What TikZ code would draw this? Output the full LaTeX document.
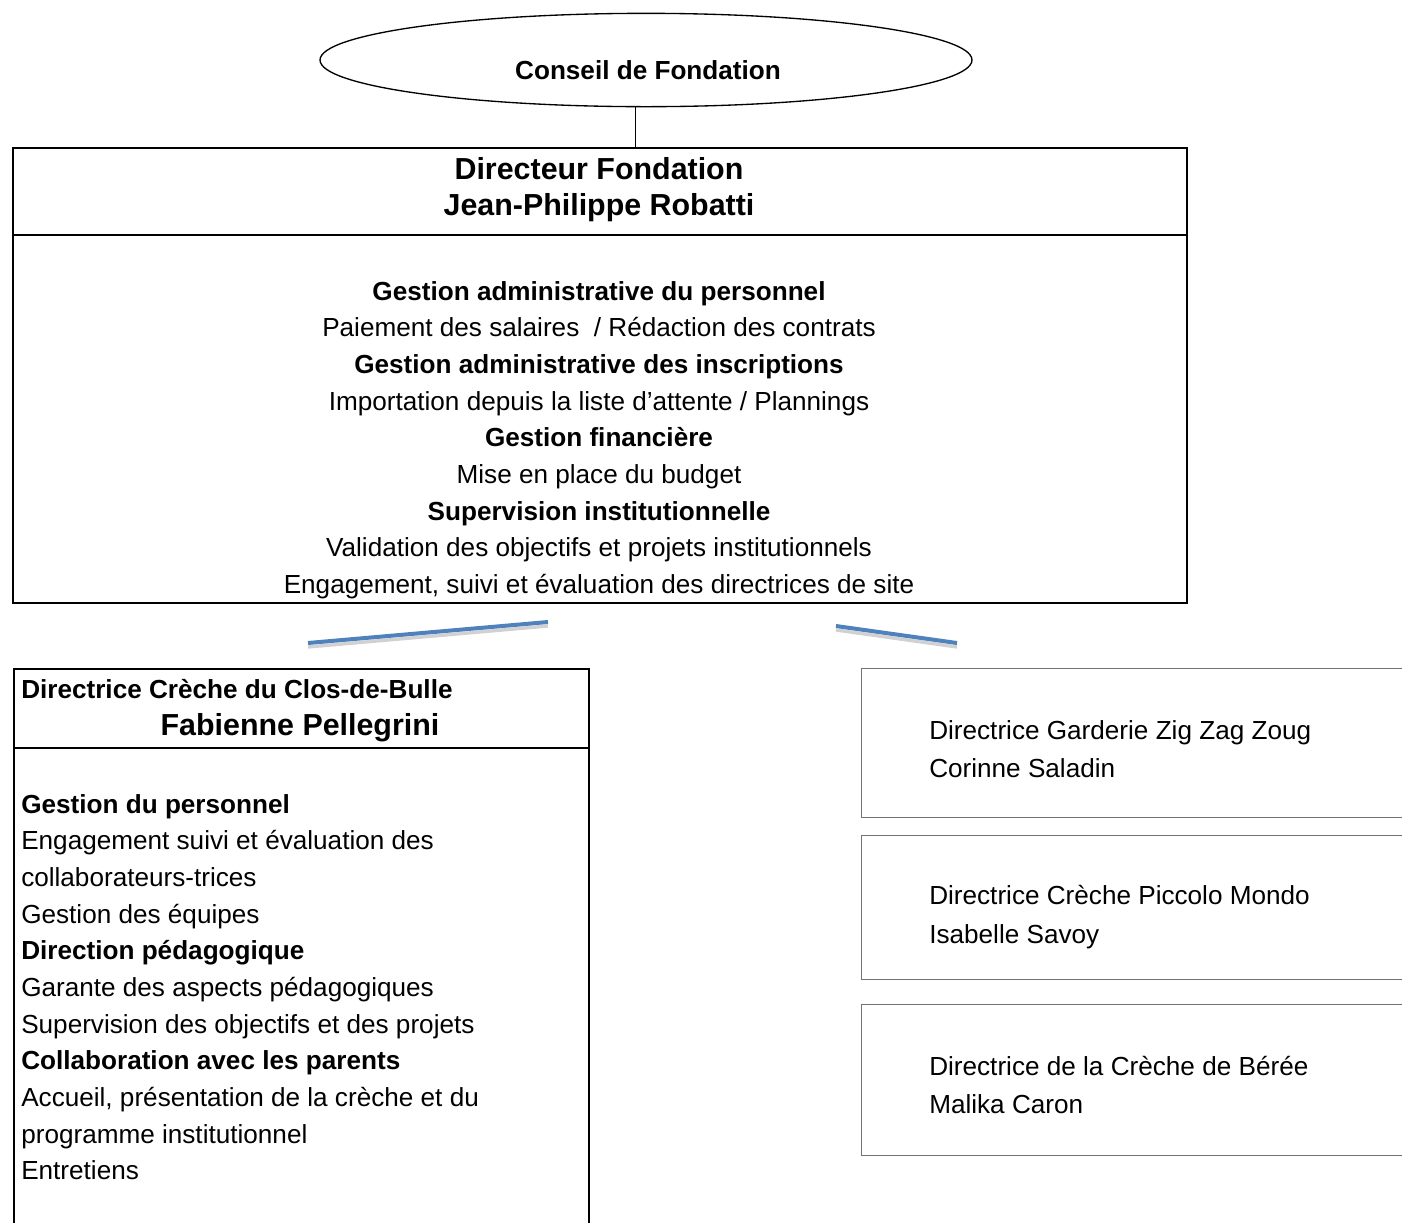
\documentclass[tikz,border=0pt]{standalone}
\usepackage{fontspec}
\setmainfont{Liberation Sans}
\usetikzlibrary{shapes.geometric}
\definecolor{officeblue}{RGB}{79,129,189}
\begin{document}
\begin{tikzpicture}[x=0.75pt, y=-0.75pt,
  box/.style={draw, line width=1.5pt, inner sep=0pt, anchor=north west},
  sitebox/.style={draw=black!55, line width=0.9pt, inner sep=0pt, anchor=north west,
    minimum width=419pt},
  txt/.style={inner sep=0pt, font=\fontsize{19.6}{27.5}\selectfont},
  big/.style={inner sep=0pt, font=\fontsize{22.8}{27}\selectfont\bfseries},
  link/.style={draw=officeblue, line width=3pt},
  linkshadow/.style={draw=black!18, line width=2.5pt}]
\useasboundingbox (0,0) rectangle (1402,1222);

% conseil et direction
\node[draw, ellipse, line width=1pt, minimum width=489pt, minimum height=70pt] (conseil) at (646,60) {};
\node[txt, font=\fontsize{19.6}{21}\selectfont\bfseries] (conseiltxt) at (648,70) {Conseil de Fondation};
\node[box, minimum width=880.5pt, minimum height=341.25pt] (dir) at (12,147) {};
\draw ([xshift=-8pt]conseil.south) -- ([xshift=-8pt]conseil.south |- dir.north);
\draw[line width=1pt] (dir.west |- 0,235) -- (dir.east |- 0,235);
\node[big, align=center] (dirnom) at (599,190) {Directeur Fondation\\Jean-Philippe Robatti};
\node[txt, align=center] (dirtaches) at (599,440) {%
  \textbf{Gestion administrative du personnel}\\
  Paiement des salaires~ / Rédaction des contrats\\
  \textbf{Gestion administrative des inscriptions}\\
  Importation depuis la liste d’attente / Plannings\\
  \textbf{Gestion financière}\\
  Mise en place du budget\\
  \textbf{Supervision institutionnelle}\\
  Validation des objectifs et projets institutionnels\\
  Engagement, suivi et évaluation des directrices de site};

% traits bleus
\coordinate (g1) at (308,643); \coordinate (g2) at (548,622);
\coordinate (d1) at (836,626); \coordinate (d2) at (957,643);
\draw[linkshadow] ([yshift=-3pt]g1) -- ([yshift=-3pt]g2);
\draw[linkshadow] ([yshift=-3pt]d1) -- ([yshift=-3pt]d2);
\draw[link] (g1) -- (g2);
\draw[link] (d1) -- (d2);

% Clos-de-Bulle
\node[box, minimum width=431.25pt, minimum height=440pt] (clos) at (13,668) {};
\draw[line width=1pt] (clos.west |- 0,748) -- (clos.east |- 0,748);
\node[txt, anchor=west, font=\fontsize{19.6}{21}\selectfont\bfseries] (clostitre) at (21,689) {Directrice Crèche du Clos-de-Bulle};
\node[big] (closnom) at (300,728) {Fabienne Pellegrini};
\node[txt, anchor=north west, align=left] (clostaches) at (21,794) {%
  \textbf{Gestion du personnel}\\
  Engagement suivi et évaluation des\\
  collaborateurs-trices\\
  Gestion des équipes\\
  \textbf{Direction pédagogique}\\
  Garante des aspects pédagogiques\\
  Supervision des objectifs et des projets\\
  \textbf{Collaboration avec les parents}\\
  Accueil, présentation de la crèche et du\\
  programme institutionnel\\
  Entretiens};

% autres sites
\foreach \y/\h/\m/\n/\t/\p in {668/149/749/zig/Directrice Garderie Zig Zag Zoug/Corinne Saladin,
    835/144/917/piccolo/Directrice Crèche Piccolo Mondo/Isabelle Savoy,
    1004/151/1085/beree/Directrice de la Crèche de Bérée/Malika Caron}{
  \node[sitebox, minimum height=\h*0.75pt] (\n) at (861,\y) {};
  \node[txt, anchor=west, align=left, font=\fontsize{19.6}{29}\selectfont] (\n txt) at (929,\m) {\t\\\p};
}
\end{tikzpicture}
\end{document}
